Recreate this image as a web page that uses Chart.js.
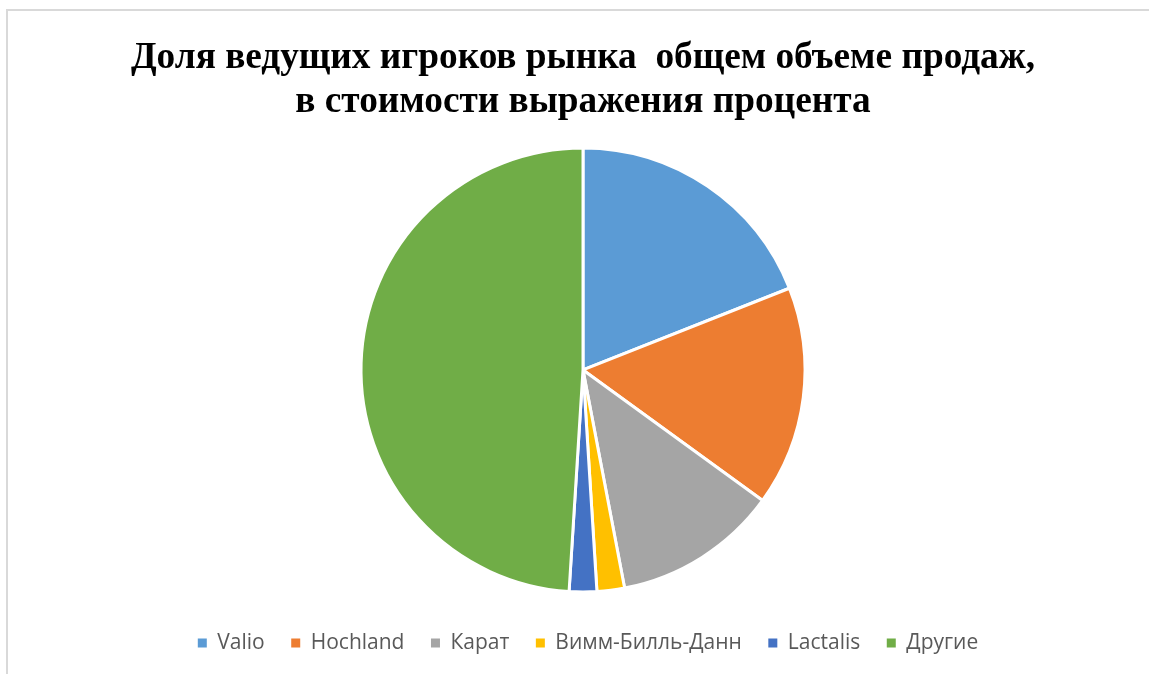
<!DOCTYPE html>
<html>
<head>
<meta charset="utf-8">
<script src="https://cdn.jsdelivr.net/npm/chart.js@4/dist/chart.umd.min.js"></script>
<style>
  html, body { margin: 0; padding: 0; background: #fff; overflow: hidden; }
  #frame { position: absolute; left: 6px; top: 9px; width: 1200px; height: 720px; border: 2px solid #d9d9d9; }
  #chart { position: absolute; left: 0; top: 0; }
</style>
</head>
<body>
<div id="frame"></div>
<canvas id="chart" width="1149" height="674"></canvas>
<script>
// data (percent)
const categories = ['Valio', 'Hochland', 'Карат', 'Вимм-Билль-Данн', 'Lactalis', 'Другие'];
const shares = [19, 16, 12, 2, 2, 49];
const sliceColors = ['#5B9BD5', '#ED7D31', '#A5A5A5', '#FFC000', '#4472C4', '#70AD47'];
const titleLines = ['Доля ведущих игроков рынка  общем объеме продаж,', 'в стоимости выражения процента'];

const ctx = document.getElementById('chart').getContext('2d');
const defaultLabels = Chart.overrides.pie.plugins.legend.labels.generateLabels;

// legend sits a few px right of the pie centre in the original
const legendShift = {
    id: 'legendShift',
    afterLayout(chart) {
        chart.legend.left += 5;
        chart.legend.right += 5;
    }
};

new Chart(ctx, {
    type: 'pie',
    data: {
        labels: categories,
        datasets: [{
            data: shares,
            backgroundColor: sliceColors,
            borderColor: '#ffffff',
            borderWidth: 3,
            radius: 222
        }]
    },
    options: {
        responsive: false,
        animation: false,
        layout: { padding: { left: 17, right: 0, top: 0, bottom: 10.5 } },
        plugins: {
            title: {
                display: true,
                text: titleLines,
                color: '#000000',
                font: { family: 'Liberation Serif', size: 37.3, weight: 'bold', lineHeight: 1.16 },
                padding: { top: 37, bottom: 26.4 }
            },
            legend: {
                position: 'bottom',
                // empty title only used as a spacer above the items
                title: { display: true, text: '', font: { size: 10, lineHeight: 1.6 }, padding: 0 },
                labels: {
                    boxWidth: 9,
                    boxHeight: 9,
                    padding: 26.5,
                    color: '#595959',
                    font: { family: 'Open Sans', size: 21 },
                    generateLabels: (chart) => defaultLabels(chart).map(item => {
                        item.lineWidth = 0;
                        item.strokeStyle = 'rgba(0,0,0,0)';
                        return item;
                    })
                }
            },
            tooltip: { enabled: false }
        }
    },
    plugins: [legendShift]
});
</script>
</body>
</html>
